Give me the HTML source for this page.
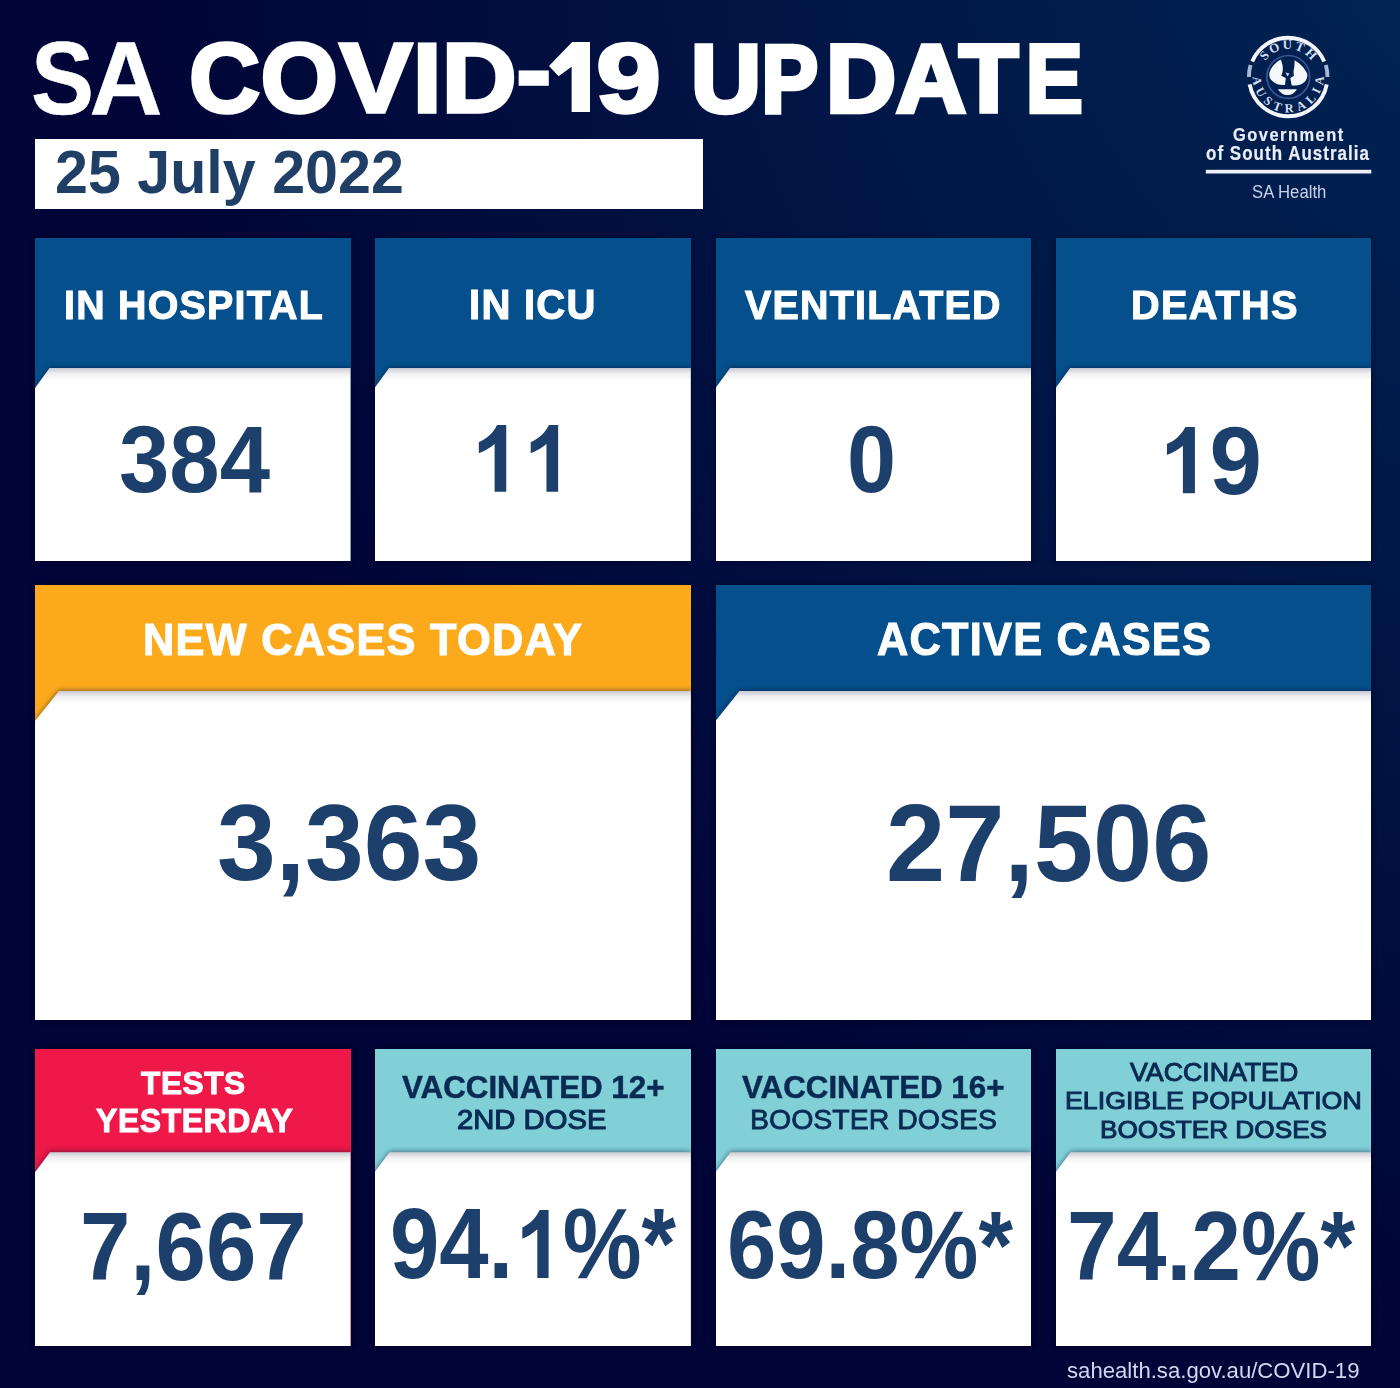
<!DOCTYPE html>
<html><head><meta charset="utf-8">
<style>
*{margin:0;padding:0;box-sizing:border-box}
html,body{width:1400px;height:1388px;overflow:hidden}
body{position:relative;font-family:"Liberation Sans",sans-serif;background:#020135}
.bg{position:absolute;left:0;top:0;width:1400px;height:1388px;
background:radial-gradient(1500px 1500px at 1600px -150px, rgb(0,42,88) 0%, rgb(1,4,54) 100%)}
.tx{position:absolute;white-space:nowrap;line-height:1;font-weight:bold;transform-origin:0 0}
.one{display:inline-block;vertical-align:baseline;fill:currentColor}
.datebox{position:absolute;left:34.5px;top:139px;width:668.5px;height:69.5px;background:#fff}
.card{position:absolute;box-shadow:0 0 4px 1px rgba(0,0,18,.35)}
.card .bw{position:absolute;left:0;right:0;bottom:0;filter:drop-shadow(0 -1px 2.5px rgba(0,8,40,.45))}
.card .body{position:absolute;left:0;right:0;top:0;bottom:0;background:#fff}

.card .body::before{content:"";position:absolute;left:0;right:0;top:0;height:12px;background:linear-gradient(rgba(40,40,70,.26),rgba(40,40,70,.08) 45%,rgba(40,40,70,0))}
.url{position:absolute;white-space:nowrap;line-height:1;transform-origin:0 0}
</style></head>
<body>
<div class="bg"></div>
<div class="datebox"></div>
<div class="card" style="left:35px;top:238px;width:315.50px;height:323.00px;background:#05508c"><div class="bw" style="top:129.50px"><div class="body" style="clip-path:polygon(15px 0,100% 0,100% 100%,0 100%,0 20.5px)"></div></div></div>
<div class="card" style="left:374.5px;top:238px;width:316.30px;height:323.00px;background:#05508c"><div class="bw" style="top:129.50px"><div class="body" style="clip-path:polygon(15px 0,100% 0,100% 100%,0 100%,0 20.5px)"></div></div></div>
<div class="card" style="left:715.5px;top:238px;width:315.80px;height:323.00px;background:#05508c"><div class="bw" style="top:129.50px"><div class="body" style="clip-path:polygon(15px 0,100% 0,100% 100%,0 100%,0 20.5px)"></div></div></div>
<div class="card" style="left:1055.6px;top:238px;width:315.80px;height:323.00px;background:#05508c"><div class="bw" style="top:129.50px"><div class="body" style="clip-path:polygon(15px 0,100% 0,100% 100%,0 100%,0 20.5px)"></div></div></div>
<div class="card" style="left:35px;top:585px;width:655.80px;height:435.00px;background:#fcaa1b"><div class="bw" style="top:106.00px"><div class="body" style="clip-path:polygon(24px 0,100% 0,100% 100%,0 100%,0 30px)"></div></div></div>
<div class="card" style="left:715.5px;top:585px;width:655.70px;height:435.00px;background:#05508c"><div class="bw" style="top:106.00px"><div class="body" style="clip-path:polygon(24px 0,100% 0,100% 100%,0 100%,0 30px)"></div></div></div>
<div class="card" style="left:35px;top:1049px;width:315.50px;height:297.00px;background:#ee1849"><div class="bw" style="top:103.30px"><div class="body" style="clip-path:polygon(15px 0,100% 0,100% 100%,0 100%,0 20px)"></div></div></div>
<div class="card" style="left:374.5px;top:1049px;width:316.30px;height:297.00px;background:#81d0d8"><div class="bw" style="top:103.30px"><div class="body" style="clip-path:polygon(15px 0,100% 0,100% 100%,0 100%,0 20px)"></div></div></div>
<div class="card" style="left:715.5px;top:1049px;width:315.80px;height:297.00px;background:#81d0d8"><div class="bw" style="top:103.30px"><div class="body" style="clip-path:polygon(15px 0,100% 0,100% 100%,0 100%,0 20px)"></div></div></div>
<div class="card" style="left:1055.6px;top:1049px;width:315.80px;height:297.00px;background:#81d0d8"><div class="bw" style="top:103.30px"><div class="body" style="clip-path:polygon(15px 0,100% 0,100% 100%,0 100%,0 20px)"></div></div></div>
<svg class="logo" style="position:absolute;left:1200px;top:25px" width="180" height="180" viewBox="1200 25 180 180">
 <defs>
  <path id="arcTop" d="M1260.2,77 A28,28 0 0 1 1316.2,77"/>
  <path id="arcBot" d="M1252.7,77 A35.5,35.5 0 0 0 1323.7,77"/>
 </defs>
 <g fill="none" stroke-width="3.9">
  <path stroke="#f4f6fc" d="M1324.21,61.41 A39.25,39.25 0 0 0 1252.19,61.41"/>
  <path stroke="#f4f6fc" d="M1249.63,84.29 A39.25,39.25 0 0 0 1326.77,84.29"/>
  <path stroke="#aab6d6" d="M1250.58,65 A39.25,39.25 0 0 0 1248.95,77"/>
  <path stroke="#aab6d6" d="M1325.82,65 A39.25,39.25 0 0 1 1327.45,77"/>
 </g>
 <circle cx="1288.3" cy="76.9" r="21.4" fill="none" stroke="#3a5494" stroke-width="1.7"/>
 <text font-family="Liberation Serif" font-weight="bold" font-size="13" fill="#d5ddf1">
  <textPath href="#arcTop" startOffset="50%" text-anchor="middle" textLength="54" lengthAdjust="spacing">SOUTH</textPath>
 </text>
 <text font-family="Liberation Serif" font-weight="bold" font-size="12.5" fill="#d5ddf1">
  <textPath href="#arcBot" startOffset="50%" text-anchor="middle" textLength="112" lengthAdjust="spacing">AUSTRALIA</textPath>
 </text>
 <g fill="#f7f8fc">
  <path d="M1280.6,59.4 C1276,62 1271,67 1269.4,72.8 C1269,76 1269.8,78.5 1271.3,79.9 C1273.5,82.5 1277,84.5 1279.8,84.7 L1285,85.1 L1285.8,78 L1281.3,75.8 C1282.5,73 1283,70 1282.8,66.9 C1282.5,64 1281.8,61.5 1280.6,59.4 Z"/>
  <path d="M1294.7,60.2 C1299.5,63 1305,68 1307.4,74.3 C1307.5,77.5 1306.5,80 1304.8,81.7 C1302.5,84 1299,85.3 1295.5,85.5 L1291.7,85.5 L1290.3,78 L1294,75.8 C1293.3,73 1293.5,70 1294.3,66.9 C1294.5,64.5 1294.5,62 1294.7,60.2 Z"/>
  <path d="M1278,89.2 L1296.9,89.2 C1295,92.6 1291.5,95.1 1287.5,95.1 C1283.5,95.1 1280,92.6 1278,89.2 Z"/>
  <path d="M1285.5,72.5 L1289.5,73.5 L1287.5,76.5 Z" fill="#c8d3f0"/>
 </g>
 <rect x="1205.8" y="169.8" width="165.5" height="3.7" fill="#eef1fa"/>
</svg>

<div class="tx" id="title_sa" style="left:31.13px;top:27.44px;font-size:103.00px;color:#fff;transform:scaleX(0.9175);-webkit-text-stroke:0.5px #fff">S<span style="display:inline-block;transform:scaleX(1.07);transform-origin:100% 0">A</span></div>
<div class="tx" id="title_covid" style="left:189.21px;top:29.16px;font-size:98.58px;color:#fff;transform:scaleX(1.0526);-webkit-text-stroke:3.5px #fff"><span style="display:inline-block;transform-origin:0 0;transform:scaleX(.95)">C</span><span style="display:inline-block;transform-origin:0 0;transform:scaleX(.96);margin-left:-3px">O</span><span style="display:inline-block;transform-origin:0 0;transform:scaleX(1.05);margin-left:-2px">V</span><span style="display:inline-block;transform-origin:0 0;margin-left:4px">I</span>D<span style="position:relative;top:-8px">-</span><svg class="one" width="39.7" height="70.2" viewBox="0 0 39.7 70.2" preserveAspectRatio="none" style="margin:0 6px 0 -2.5px"><path d="M22,0H39.7V70.2H21.5V24.7L9.1,34.3L0,24.1Z"/></svg><span style="display:inline-block;transform:scaleX(1.12);transform-origin:0 0">9</span></div>
<div class="tx" id="title_update" style="left:690.69px;top:31.15px;font-size:96.84px;color:#fff;transform:scaleX(1.0031);-webkit-text-stroke:4.5px #fff">U<span style="display:inline-block;transform:scaleX(.88);transform-origin:0 0">P</span>DAT<span style="display:inline-block;transform:scaleX(.88);transform-origin:100% 0">E</span></div>
<div class="tx" id="date" style="left:55.48px;top:141.73px;font-size:61.25px;color:#1f3f66;transform:scaleX(0.9663)">25 July 2022</div>
<div class="tx" id="h_hosp" style="left:63.75px;top:283.97px;font-size:41.52px;color:#fff;transform:scaleX(0.9487);-webkit-text-stroke:1.1px #fff;letter-spacing:1.3px">IN HOSPITAL</div>
<div class="tx" id="h_icu" style="left:469.42px;top:284.32px;font-size:41.58px;color:#fff;transform:scaleX(0.9639);-webkit-text-stroke:1.1px #fff;letter-spacing:1.3px">IN ICU</div>
<div class="tx" id="h_vent" style="left:744.80px;top:284.30px;font-size:41.43px;color:#fff;transform:scaleX(0.9507);-webkit-text-stroke:1.1px #fff;letter-spacing:1.3px">VENTILATED</div>
<div class="tx" id="h_death" style="left:1130.99px;top:284.30px;font-size:41.43px;color:#fff;transform:scaleX(0.9582);-webkit-text-stroke:1.1px #fff;letter-spacing:1.3px">DEATHS</div>
<div class="tx" id="n384" style="left:118.56px;top:412.14px;font-size:95.05px;color:#1d3f6b;transform:scaleX(0.9521)">384</div>
<div class="tx" id="n11" style="left:468.73px;top:409.54px;font-size:97.46px;color:#1d3f6b;transform:scaleX(0.9604)"><svg class="one" width="29.09" height="66.86" viewBox="0 0 28.8 66.2" preserveAspectRatio="none" style="margin:0 15.15px 0 10.1px"><path d="M19,0H28.8V66.2H16.5V18.7C12,22.5 6,26 0,27.9V17C8,14 15,8 19,0Z"/></svg><svg class="one" width="29.09" height="66.86" viewBox="0 0 28.8 66.2" preserveAspectRatio="none" style="margin:0 15.15px 0 10.1px"><path d="M19,0H28.8V66.2H16.5V18.7C12,22.5 6,26 0,27.9V17C8,14 15,8 19,0Z"/></svg></div>
<div class="tx" id="n0" style="left:846.57px;top:412.05px;font-size:95.05px;color:#1d3f6b;transform:scaleX(0.9276)">0</div>
<div class="tx" id="n19" style="left:1157.31px;top:411.51px;font-size:96.69px;color:#1d3f6b;transform:scaleX(0.9758)"><svg class="one" width="28.86" height="66.33" viewBox="0 0 28.8 66.2" preserveAspectRatio="none" style="margin:0 15.03px 0 10.02px"><path d="M19,0H28.8V66.2H16.5V18.7C12,22.5 6,26 0,27.9V17C8,14 15,8 19,0Z"/></svg>9</div>
<div class="tx" id="h_new" style="left:142.56px;top:618.02px;font-size:43.96px;color:#fff;transform:scaleX(0.9850);-webkit-text-stroke:1.1px #fff;letter-spacing:1.3px">NEW CASES TODAY</div>
<div class="tx" id="h_act" style="left:877.41px;top:617.44px;font-size:45.90px;color:#fff;transform:scaleX(0.9446);-webkit-text-stroke:1.1px #fff;letter-spacing:1.3px">ACTIVE CASES</div>
<div class="tx" id="n3363" style="left:217.25px;top:790.16px;font-size:107.01px;color:#1d3f6b;transform:scaleX(0.9871)">3,363</div>
<div class="tx" id="n27506" style="left:885.51px;top:790.45px;font-size:108.78px;color:#1d3f6b;transform:scaleX(0.9781)">27,506</div>
<div class="tx" id="h_tests1" style="left:141.29px;top:1067.38px;font-size:32.03px;color:#fff;transform:scaleX(0.9866);-webkit-text-stroke:1.0px #fff;letter-spacing:0.6px">TESTS</div>
<div class="tx" id="h_tests2" style="left:95.93px;top:1105.02px;font-size:32.80px;color:#fff;transform:scaleX(0.9733);-webkit-text-stroke:1.0px #fff;letter-spacing:0.6px">YESTERDAY</div>
<div class="tx" id="h_v12a" style="left:401.99px;top:1071.72px;font-size:31.54px;color:#0a2a52;transform:scaleX(0.9933);-webkit-text-stroke:0.5px #0a2a52">VACCINATED 12+</div>
<div class="tx" id="h_v12b" style="left:457.19px;top:1106.35px;font-size:28.01px;color:#0a2a52;transform:scaleX(1.0438);-webkit-text-stroke:1.1px #0a2a52;font-weight:normal">2ND DOSE</div>
<div class="tx" id="h_v16a" style="left:741.99px;top:1071.71px;font-size:31.63px;color:#0a2a52;transform:scaleX(0.9903);-webkit-text-stroke:0.5px #0a2a52">VACCINATED 16+</div>
<div class="tx" id="h_v16b" style="left:749.74px;top:1106.35px;font-size:28.01px;color:#0a2a52;transform:scaleX(1.0177);-webkit-text-stroke:0.8px #0a2a52;font-weight:normal">BOOSTER DOSES</div>
<div class="tx" id="h_veA" style="left:1129.72px;top:1060.36px;font-size:25.15px;color:#0a2a52;transform:scaleX(1.0624);-webkit-text-stroke:1.0px #0a2a52;font-weight:normal">VACCINATED</div>
<div class="tx" id="h_veB" style="left:1064.70px;top:1089.17px;font-size:24.34px;color:#0a2a52;transform:scaleX(1.0992);-webkit-text-stroke:1.0px #0a2a52;font-weight:normal">ELIGIBLE POPULATION</div>
<div class="tx" id="h_veC" style="left:1099.81px;top:1117.81px;font-size:24.20px;color:#0a2a52;transform:scaleX(1.0831);-webkit-text-stroke:1.0px #0a2a52;font-weight:normal">BOOSTER DOSES</div>
<div class="tx" id="n7667" style="left:79.94px;top:1198.76px;font-size:96.11px;color:#1d3f6b;transform:scaleX(0.9424)">7,667</div>
<div class="tx" id="n941" style="left:389.54px;top:1194.19px;font-size:99.26px;color:#1d3f6b;transform:scaleX(0.8931)">94.<svg class="one" width="29.62" height="68.09" viewBox="0 0 28.8 66.2" preserveAspectRatio="none" style="margin:0 15.43px 0 10.29px"><path d="M19,0H28.8V66.2H16.5V18.7C12,22.5 6,26 0,27.9V17C8,14 15,8 19,0Z"/></svg>%*</div>
<div class="tx" id="n698" style="left:726.81px;top:1197.01px;font-size:95.98px;color:#1d3f6b;transform:scaleX(0.9239)">69.8%*</div>
<div class="tx" id="n742" style="left:1067.46px;top:1197.90px;font-size:97.55px;color:#1d3f6b;transform:scaleX(0.9164)">74.2%*</div>
<div class="tx" id="g_gov" style="left:1232.82px;top:126.63px;font-size:17.78px;color:#e9edf8;transform:scaleX(0.9254);-webkit-text-stroke:0.2px #e9edf8;letter-spacing:1.6px">Government</div>
<div class="tx" id="g_osa" style="left:1205.82px;top:144.29px;font-size:19.56px;color:#e9edf8;transform:scaleX(0.8669);-webkit-text-stroke:0.2px #e9edf8;letter-spacing:1.2px">of South Australia</div>
<div class="tx" id="g_sah" style="left:1252.38px;top:183.11px;font-size:18.26px;color:#c9d1ea;transform:scaleX(0.9164);font-weight:normal">SA Health</div>
<div class="tx" id="url" style="left:1066.68px;top:1360.16px;font-size:22.02px;color:#d3d7f0;transform:scaleX(1.0056);font-weight:normal">sahealth.sa.gov.au/COVID-19</div>
</body></html>
